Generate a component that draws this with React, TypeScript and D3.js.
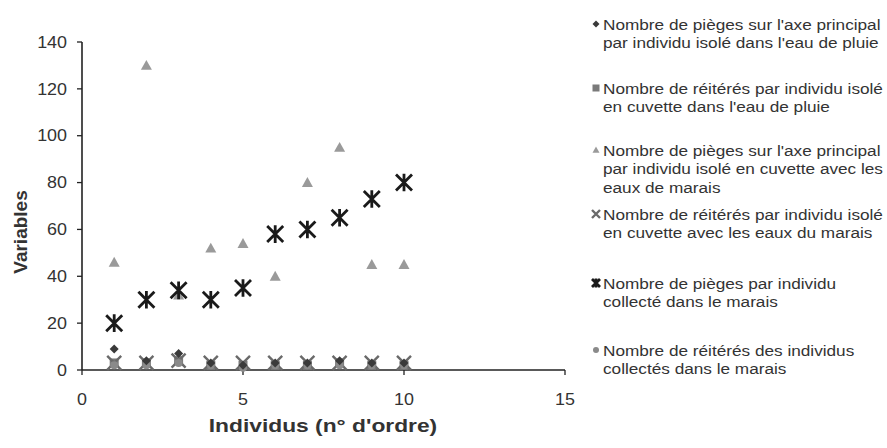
import React from "react";
import * as d3 from "d3";

const xValues = [1, 2, 3, 4, 5, 6, 7, 8, 9, 10];
const s1PiegesPluie = [9, 4, 7, 3, 2, 3, 3, 4, 3, 3];
const s2ReiteresPluie = [3, 3, 4, 2, 2, 2, 2, 3, 2, 2];
const s3PiegesMaraisCuvette = [46, 130, 32, 52, 54, 40, 80, 95, 45, 45];
const s4ReiteresMaraisCuvette = [3, 3, 4, 3, 3, 3, 3, 3, 3, 3];
const s5PiegesCollectes = [20, 30, 34, 30, 35, 58, 60, 65, 73, 80];
const s6ReiteresCollectes = [2, 2, 3, 2, 1, 2, 2, 2, 2, 2];

const xTicks = [0, 5, 10, 15];
const yTicks = [0, 20, 40, 60, 80, 100, 120, 140];

const legendLabels = [
  ["Nombre de pièges sur l'axe principal", "par individu isolé dans l'eau de pluie"],
  ["Nombre de réitérés par individu isolé", "en cuvette dans l'eau de pluie"],
  ["Nombre de pièges sur l'axe principal", "par individu isolé en cuvette avec les", "eaux de marais"],
  ["Nombre de réitérés par individu isolé", "en cuvette avec les eaux du marais"],
  ["Nombre de pièges par individu", "collecté dans le marais"],
  ["Nombre de réitérés des individus", "collectés dans le marais"],
];
const legendY = [24, 88, 150, 214, 283, 350];

type Kind = "diamond" | "square" | "triangle" | "x" | "star" | "circle";

function Marker({ kind, x, y, s, color }: { kind: Kind; x: number; y: number; s: number; color: string }) {
  const h = s / 2;
  if (kind === "diamond")
    return <path d={`M${x},${y - h}L${x + h},${y}L${x},${y + h}L${x - h},${y}Z`} fill={color} />;
  if (kind === "square") return <rect x={x - h} y={y - h} width={s} height={s} fill={color} />;
  if (kind === "triangle")
    return <path d={`M${x},${y - h}L${x + h},${y + h * 0.8}L${x - h},${y + h * 0.8}Z`} fill={color} />;
  if (kind === "circle") return <circle cx={x} cy={y} r={h} fill={color} />;
  if (kind === "x")
    return (
      <path d={`M${x - h},${y - h}L${x + h},${y + h}M${x + h},${y - h}L${x - h},${y + h}`} stroke={color} strokeWidth={2.4} />
    );
  return (
    <path
      d={`M${x - h},${y - h}L${x + h},${y + h}M${x + h},${y - h}L${x - h},${y + h}M${x},${y - h * 1.1}L${x},${y + h * 1.1}`}
      stroke={color}
      strokeWidth={2.8}
    />
  );
}

const series: { data: number[]; kind: Kind; color: string; size: number; lsize: number }[] = [
  { data: s3PiegesMaraisCuvette, kind: "triangle", color: "#9a9a9a", size: 11, lsize: 7 },
  { data: s2ReiteresPluie, kind: "square", color: "#7a7a7a", size: 9, lsize: 7 },
  { data: s4ReiteresMaraisCuvette, kind: "x", color: "#6a6a6a", size: 14, lsize: 8 },
  { data: s6ReiteresCollectes, kind: "circle", color: "#8a8a8a", size: 8, lsize: 6 },
  { data: s1PiegesPluie, kind: "diamond", color: "#3a3a3a", size: 9, lsize: 7 },
  { data: s5PiegesCollectes, kind: "star", color: "#1a1a1a", size: 16, lsize: 8 },
];
const legendKinds: Kind[] = ["diamond", "square", "triangle", "x", "star", "circle"];
const legendColors = ["#3a3a3a", "#7a7a7a", "#9a9a9a", "#6a6a6a", "#1a1a1a", "#8a8a8a"];

export default function App() {
  const x = d3.scaleLinear().domain([0, 15]).range([82, 565]);
  const y = d3.scaleLinear().domain([0, 140]).range([370, 42]);
  const font = "Arial, 'Liberation Sans', sans-serif";
  const sx = 1.12;
  return (
    <svg
      width={887}
      height={448}
      style={{ position: "absolute", left: 0, top: 0, background: "#fff" }}
      fontFamily={font}
    >
      <rect width={887} height={448} fill="#fff" />
      {/* axes */}
      <line x1={x(0)} x2={x(0)} y1={y(140)} y2={y(0)} stroke="#222" strokeWidth={1.6} />
      <line x1={x(0)} x2={x(15)} y1={y(0)} y2={y(0)} stroke="#222" strokeWidth={1.6} />
      {yTicks.map((t) => (
        <g key={"y" + t}>
          <line x1={x(0) - 5} x2={x(0)} y1={y(t)} y2={y(t)} stroke="#222" strokeWidth={1.3} />
          <text
            transform={`translate(67,${y(t)}) scale(${sx},1)`}
            dy="0.36em"
            textAnchor="end"
            fontSize={16}
            fill="#333"
          >
            {t}
          </text>
        </g>
      ))}
      {xTicks.map((t) => (
        <g key={"x" + t}>
          <line x1={x(t)} x2={x(t)} y1={y(0)} y2={y(0) + 5} stroke="#222" strokeWidth={1.3} />
          <text
            transform={`translate(${x(t)},${y(0) + 35}) scale(${sx},1)`}
            textAnchor="middle"
            fontSize={16}
            fill="#333"
          >
            {t}
          </text>
        </g>
      ))}
      <text
        transform={`translate(27,${(y(0) + y(140)) / 2 + 26}) rotate(-90)`}
        textAnchor="middle"
        fontSize={19}
        fontWeight="bold"
        fill="#333"
      >
        Variables
      </text>
      <text
        transform={`translate(323,432) scale(1.2,1)`}
        textAnchor="middle"
        fontSize={19}
        fontWeight="bold"
        fill="#333"
      >
        Individus (n° d'ordre)
      </text>
      {/* data */}
      {series.map((s, si) => (
        <g key={"s" + si}>
          {s.data.map((v, i) => (
            <Marker key={i} kind={s.kind} x={x(xValues[i])} y={y(v)} s={s.size} color={s.color} />
          ))}
        </g>
      ))}
      {/* legend */}
      {legendLabels.map((lines, li) => (
        <g key={"l" + li}>
          <Marker
            kind={legendKinds[li]}
            x={596}
            y={legendY[li]}
            s={series.find((s) => s.kind === legendKinds[li])!.lsize}
            color={legendColors[li]}
          />
          {lines.map((ln, k) => (
            <text
              key={k}
              transform={`translate(603,${legendY[li] + k * 18.5}) scale(1.11,1)`}
              dy="0.36em"
              fontSize={15.5}
              fill="#333"
            >
              {ln}
            </text>
          ))}
        </g>
      ))}
    </svg>
  );
}
